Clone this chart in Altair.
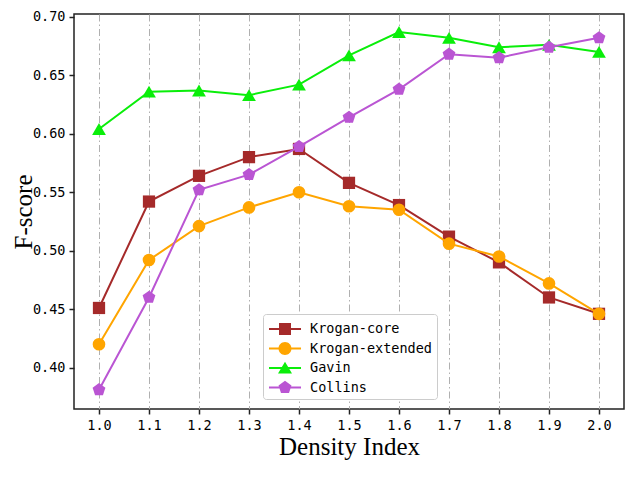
import altair as alt
import pandas as pd

density = [1.0, 1.1, 1.2, 1.3, 1.4, 1.5, 1.6, 1.7, 1.8, 1.9, 2.0]
series_names = ['Krogan-core', 'Krogan-extended', 'Gavin', 'Collins']
krogan_core = [0.451, 0.542, 0.564, 0.580, 0.587, 0.558, 0.539, 0.512, 0.490, 0.460, 0.446]
krogan_extended = [0.420, 0.492, 0.521, 0.537, 0.550, 0.538, 0.535, 0.506, 0.495, 0.472, 0.446]
gavin = [0.604, 0.636, 0.637, 0.633, 0.642, 0.667, 0.687, 0.682, 0.674, 0.676, 0.670]
collins = [0.381, 0.460, 0.552, 0.565, 0.589, 0.614, 0.638, 0.668, 0.665, 0.674, 0.682]
y_ticks = [0.40, 0.45, 0.50, 0.55, 0.60, 0.65, 0.70]

colors = ['#a52a2a', '#ffa500', '#0aee0a', '#ba55d3']

# marker shapes in the plot
pentagon = 'M0,-1L0.951,-0.309L0.588,0.809L-0.588,0.809L-0.951,-0.309Z'
shapes = ['square', 'circle', 'triangle-up', pentagon]
sizes = [150, 160, 190, 180]

# legend symbols: marker with a short line through it
bar = 'M-1.6,-0.1H-0.3V0.1H-1.6Z M0.3,-0.1H1.6V0.1H0.3Z '
legend_shapes = [
    bar + 'M-0.6,-0.6H0.6V0.6H-0.6Z',
    bar + 'M-0.65,0A0.65,0.65 0 1,1 0.65,0A0.65,0.65 0 1,1 -0.65,0Z',
    bar + 'M0,-0.62L0.7,0.55L-0.7,0.55Z',
    bar + 'M0,-0.68L0.647,-0.21L0.4,0.55L-0.4,0.55L-0.647,-0.21Z',
]

all_values = [krogan_core, krogan_extended, gavin, collins]
df = pd.DataFrame({
    'density': density * len(series_names),
    'score': [v for vals in all_values for v in vals],
    'series': [name for name in series_names for _ in density],
})

x_enc = alt.X('density:Q', title='Density Index',
              scale=alt.Scale(domain=[0.95, 2.05], nice=False, zero=False),
              axis=alt.Axis(values=density, format='.1f', grid=True,
                            gridColor='#b0b0b0', gridDash=[7, 3, 1.5, 3],
                            gridWidth=1))
y_enc = alt.Y('score:Q', title='F-score',
              scale=alt.Scale(domain=[0.3646, 0.7024], nice=False, zero=False),
              axis=alt.Axis(values=y_ticks, format='.2f', grid=False))

base = alt.Chart(df)
layers = []
for name, color, shape, size in zip(series_names, colors, shapes, sizes):
    one = base.transform_filter(alt.datum.series == name)
    line = one.mark_line(strokeWidth=2, color=color).encode(x=x_enc, y=y_enc)
    pts = one.mark_point(shape=shape, size=size, filled=True, opacity=1,
                         color=color).encode(x=x_enc, y=y_enc)
    layers += [line, pts]

legend_props = dict(
    title=None, orient='none', legendX=189, legendY=300,
    padding=5, fillColor='white', strokeColor='#cccccc', cornerRadius=3,
    labelFont='DejaVu Sans Mono', labelFontSize=13.5, labelColor='black',
    symbolSize=400, symbolOffset=7, labelOffset=15, rowPadding=2.5,
    symbolStrokeWidth=0, symbolOpacity=1,
)
legend_layer = base.mark_point(filled=True, opacity=0).encode(
    x=x_enc, y=y_enc,
    color=alt.Color('series:N', scale=alt.Scale(domain=series_names, range=colors),
                    legend=alt.Legend(**legend_props)),
    shape=alt.Shape('series:N', scale=alt.Scale(domain=series_names, range=legend_shapes),
                    legend=alt.Legend(**legend_props)),
)
layers.append(legend_layer)

chart = (
    alt.layer(*layers)
    .properties(width=550, height=395, autosize=alt.AutoSizeParams(type='none'),
                padding={'left': 66, 'top': 6, 'right': 1, 'bottom': 54})
    .configure_axis(
        labelFont='DejaVu Sans Mono', labelFontSize=13.5, labelColor='black',
        titleFont='Liberation Serif', titleFontSize=25, titleFontWeight='normal',
        titleColor='black', domain=False, tickColor='#222222', tickWidth=1.5,
        tickSize=5, labelPadding=4,
    )
    .configure_axisY(titlePadding=1, titleBaseline='alphabetic')
    .configure_axisX(titlePadding=3, labelPadding=4)
    .configure_view(stroke='#222222', strokeWidth=1.5)
)

chart.save('out.html', embed_options={'renderer': 'svg', 'actions': False})
